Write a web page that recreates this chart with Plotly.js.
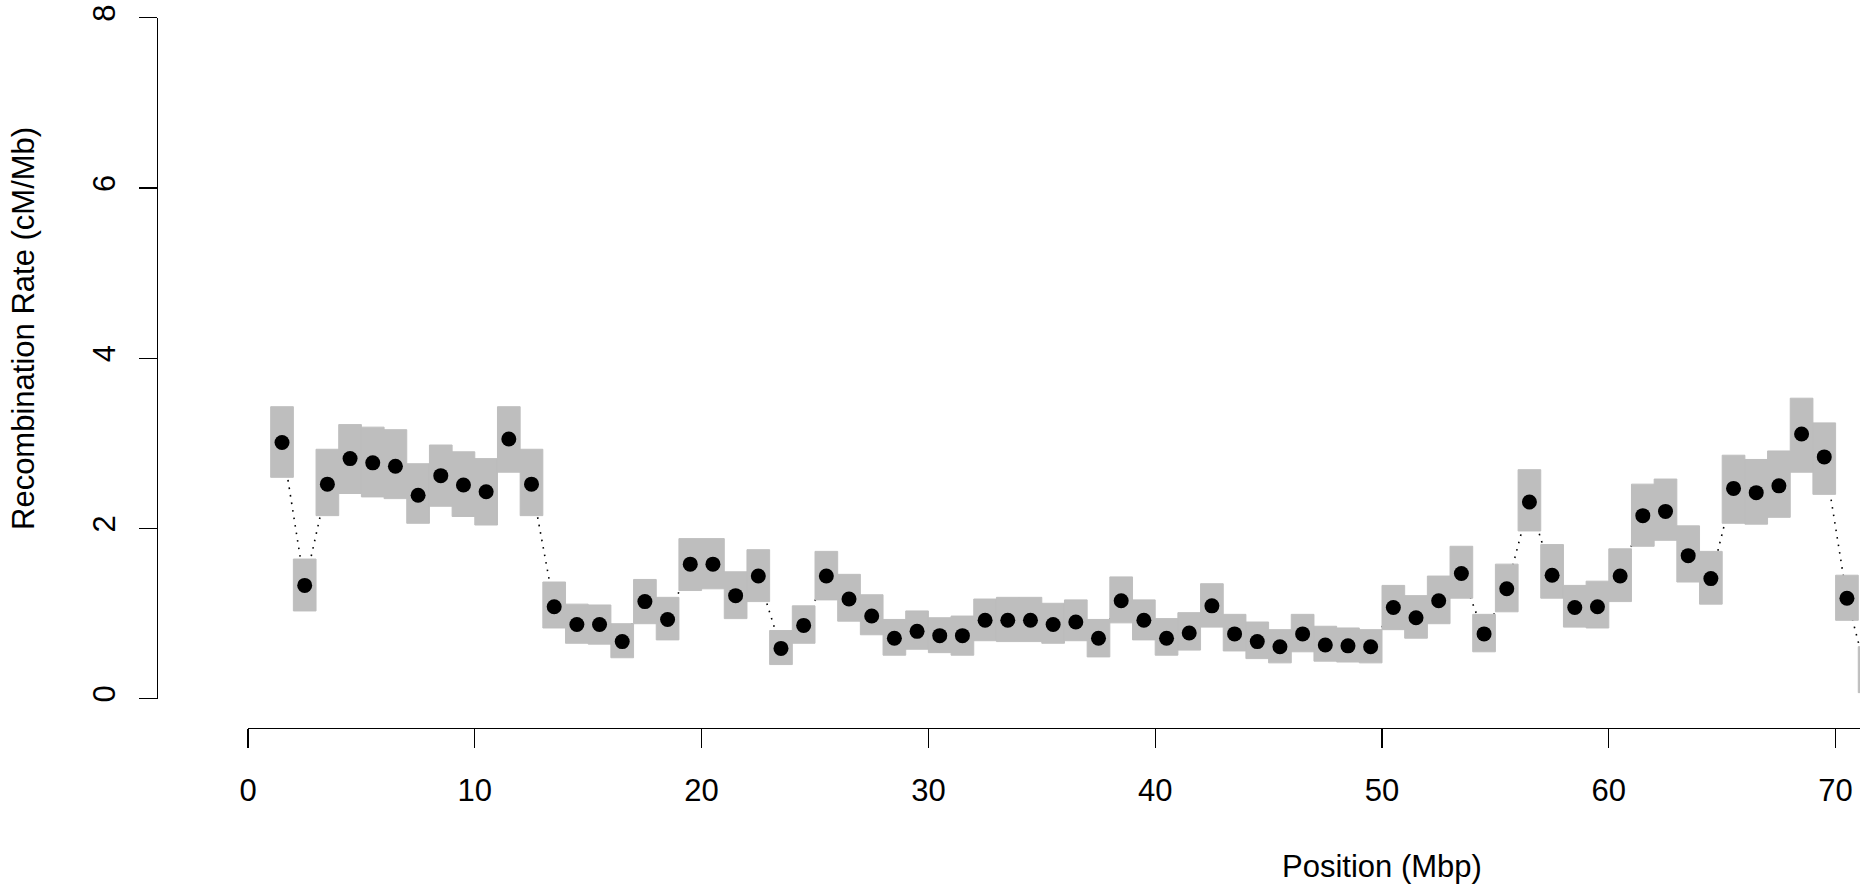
<!DOCTYPE html>
<html>
<head>
<meta charset="utf-8">
<script src="https://cdn.plot.ly/plotly-3.0.1.min.js"></script>
<style>html,body{margin:0;padding:0;background:#fff;}#chart{width:1860px;height:890px;}</style>
</head>
<body>
<div id="chart"></div>
<script>
// Bin centres (Mbp)
const positions = [1.5,2.5,3.5,4.5,5.5,6.5,7.5,8.5,9.5,10.5,11.5,12.5,13.5,14.5,15.5,16.5,17.5,18.5,19.5,20.5,
  21.5,22.5,23.5,24.5,25.5,26.5,27.5,28.5,29.5,30.5,31.5,32.5,33.5,34.5,35.5,36.5,37.5,38.5,39.5,40.5,
  41.5,42.5,43.5,44.5,45.5,46.5,47.5,48.5,49.5,50.5,51.5,52.5,53.5,54.5,55.5,56.5,57.5,58.5,59.5,60.5,
  61.5,62.5,63.5,64.5,65.5,66.5,67.5,68.5,69.5,70.5,71.5];
// Recombination rate estimate (cM/Mb)
const rate = [3.01,1.33,2.52,2.82,2.77,2.73,2.39,2.62,2.51,2.43,3.05,2.52,1.08,0.87,0.87,0.67,1.14,0.93,1.58,1.58,
  1.21,1.44,0.59,0.86,1.44,1.17,0.97,0.71,0.79,0.74,0.74,0.92,0.92,0.92,0.87,0.90,0.71,1.15,0.92,0.71,
  0.77,1.09,0.76,0.67,0.61,0.76,0.63,0.62,0.61,1.07,0.95,1.15,1.47,0.76,1.29,2.31,1.45,1.07,1.08,1.44,
  2.15,2.20,1.68,1.41,2.47,2.42,2.50,3.11,2.84,1.18,0.15];
// Lower / upper interval bounds (cM/Mb)
const lower = [2.60,1.03,2.15,2.41,2.37,2.35,2.06,2.26,2.14,2.04,2.66,2.15,0.83,0.65,0.64,0.48,0.88,0.69,1.27,1.29,
  0.94,1.14,0.40,0.65,1.16,0.91,0.75,0.51,0.58,0.54,0.51,0.68,0.67,0.67,0.65,0.68,0.49,0.89,0.69,0.51,
  0.57,0.84,0.56,0.47,0.42,0.55,0.44,0.43,0.42,0.81,0.71,0.88,1.18,0.55,1.02,1.97,1.18,0.84,0.83,1.14,
  1.79,1.86,1.37,1.11,2.06,2.05,2.13,2.66,2.40,0.92,0.07];
const upper = [3.43,1.64,2.93,3.22,3.19,3.16,2.76,2.98,2.90,2.82,3.43,2.93,1.37,1.11,1.10,0.88,1.40,1.19,1.88,1.88,
  1.49,1.75,0.80,1.09,1.73,1.46,1.22,0.93,1.03,0.95,0.97,1.17,1.19,1.19,1.12,1.16,0.93,1.43,1.16,0.94,
  1.01,1.35,0.99,0.90,0.81,0.99,0.85,0.83,0.81,1.33,1.21,1.44,1.79,0.99,1.58,2.69,1.81,1.33,1.38,1.76,
  2.52,2.58,2.03,1.73,2.86,2.81,2.91,3.53,3.24,1.45,0.61];
const xTicks = [0,10,20,30,40,50,60,70];
const yTicks = [0,2,4,6,8];
const xTitle = 'Position (Mbp)';
const yTitle = 'Recombination Rate (cM/Mb)';

// Build interval boxes (one bin wide) from the arrays
const half = (positions[1]-positions[0])/2;
const boxX = [], boxY = [];
positions.forEach((p,i)=>{
  boxX.push(p-half,p+half,p+half,p-half,p-half,null);
  boxY.push(lower[i],lower[i],upper[i],upper[i],lower[i],null);
});

const FONT = 'Liberation Sans, Arial, Helvetica, sans-serif';
const traces = [
  {x: positions, y: rate, type:'scatter', mode:'lines', xaxis:'x', yaxis:'y',
   line:{color:'#000', width:1.6, dash:'1.6px,6px'}, hoverinfo:'skip', showlegend:false},
  {x: boxX, y: boxY, type:'scatter', mode:'lines', fill:'toself', fillcolor:'#BEBEBE',
   line:{color:'#BEBEBE', width:1}, hoverinfo:'skip', showlegend:false, connectgaps:false},
  {x: positions, y: rate, type:'scatter', mode:'markers',
   marker:{color:'#000', size:15}, showlegend:false}
];

const L = 157, PW = 1860-L, PH = 728;
const x0px = 248, pxPerMb = 22.68;
const y0px = 698.6, pxPerUnit = 85.1;

const layout = {
  width:1860, height:890,
  margin:{l:L, r:0, t:0, b:890-PH, pad:0},
  paper_bgcolor:'#fff', plot_bgcolor:'#fff',
  font:{family:FONT, size:31, color:'#000'},
  showlegend:false,
  xaxis:{
    domain:[(x0px-L)/PW, 1],
    range:[0, (1860-x0px)/pxPerMb],
    anchor:'free', position:0,
    tickvals:xTicks, ticktext:xTicks.map(String),
    ticks:'outside', ticklen:19, tickwidth:1.2, tickcolor:'#000',
    showline:true, linecolor:'#000', linewidth:1.3,
    showgrid:false, zeroline:false,
    tickfont:{family:FONT, size:31, color:'#000'},
    ticklabelstandoff:15
  },
  yaxis:{
    domain:[(PH-y0px)/PH, (PH-(y0px-8*pxPerUnit))/PH],
    range:[0,8],
    anchor:'free', position:0,
    tickvals:yTicks, ticktext:yTicks.map(String),
    tickangle:-90,
    ticks:'outside', ticklen:18, tickwidth:1.2, tickcolor:'#000',
    showline:true, linecolor:'#000', linewidth:1.3,
    showgrid:false, zeroline:false,
    tickfont:{family:FONT, size:31, color:'#000'},
    ticklabelstandoff:12
  },
  annotations:[
    {text:xTitle, xref:'paper', yref:'paper', x:(1382-L)/PW, y:(PH-866)/PH,
     xanchor:'center', yanchor:'middle', showarrow:false,
     font:{family:FONT, size:31, color:'#000'}},
    {text:yTitle, xref:'paper', yref:'paper', x:(24-L)/PW, y:(PH-329)/PH,
     xanchor:'center', yanchor:'middle', textangle:-90, showarrow:false,
     font:{family:FONT, size:31, color:'#000'}}
  ]
};

Plotly.newPlot('chart', traces, layout, {staticPlot:true, displayModeBar:false});
</script>
</body>
</html>
